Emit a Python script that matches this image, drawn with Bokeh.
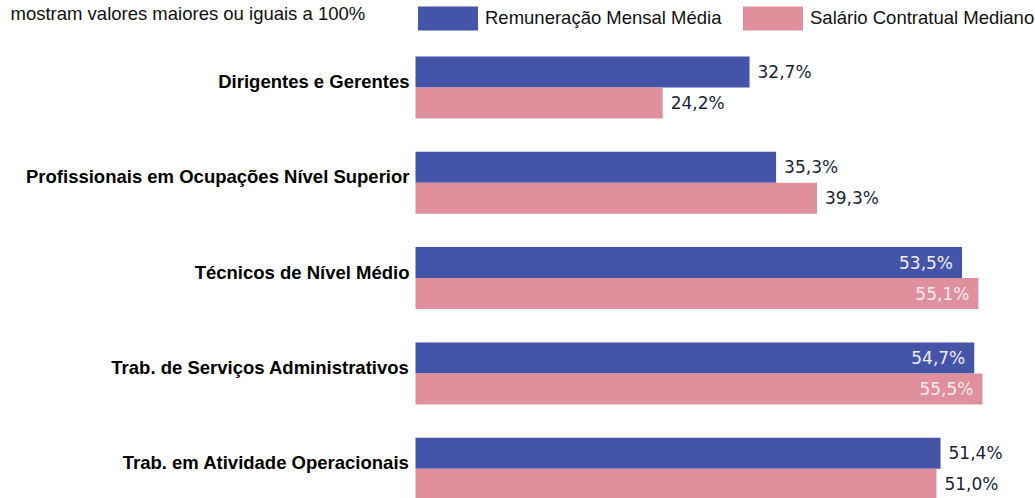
from bokeh.plotting import figure
from bokeh.models import Range1d, ColumnDataSource, Legend, LegendItem
from bokeh.transform import dodge
from bokeh.core.properties import value
from bokeh.embed import file_html
from bokeh.resources import INLINE

# ---- data ----
categories = [
    "Dirigentes e Gerentes",
    "Profissionais em Ocupações Nível Superior",
    "Técnicos de Nível Médio",
    "Trab. de Serviços Administrativos",
    "Trab. em Atividade Operacionais",
]
remuneracao_media = [32.7, 35.3, 53.5, 54.7, 51.4]
salario_mediano = [24.2, 39.3, 55.1, 55.5, 51.0]
series_names = ["Remuneração Mensal Média", "Salário Contratual Mediano"]
note_text = "mostram valores maiores ou iguais a 100%"

# ---- styles / layout ----
BLUE = "#4454A8"
PINK = "#E08F9C"
FONT = "Liberation Sans"
W, H = 1035, 498
X0_PX = 415          # where value 0 sits
PX_PER_UNIT = 10.215
ROW_PX = 95.3
ROW0_PX = 87         # centre of first category

x_start = -X0_PX / PX_PER_UNIT
x_end = (W - X0_PX) / PX_PER_UNIT
y_top = -ROW0_PX / ROW_PX
y_bottom = y_top + H / ROW_PX

idx = list(range(len(categories)))

def fmt(v):
    return f"{v:.1f}".replace(".", ",") + "%"

src = ColumnDataSource(dict(idx=idx, rem=remuneracao_media, sal=salario_mediano))

p = figure(
    width=W, height=H,
    x_range=Range1d(x_start, x_end),
    y_range=Range1d(start=y_bottom, end=y_top),
    x_axis_location=None, y_axis_location=None,
    output_backend="svg", toolbar_location=None,
    min_border=0,
)
p.outline_line_color = None
p.xgrid.visible = False
p.ygrid.visible = False
p.background_fill_color = "white"
p.border_fill_color = "white"

off = 15.5 / ROW_PX
hb = 31 / ROW_PX
r1 = p.hbar(y=dodge("idx", -off, range=p.y_range), right="rem", left=0, height=hb,
            source=src, fill_color=BLUE, line_color=None)
r2 = p.hbar(y=dodge("idx", off, range=p.y_range), right="sal", left=0, height=hb,
            source=src, fill_color=PINK, line_color=None)

# data labels
lx, ly, lt, la, lo, lc = [], [], [], [], [], []
for i in idx:
    for vals, d in ((remuneracao_media, -off), (salario_mediano, off)):
        v = vals[i]
        inside = v > 52
        lx.append(v)
        ly.append(i + d)
        lt.append(fmt(v))
        la.append("right" if inside else "left")
        lo.append(-9 if inside else 8)
        lc.append("#F2ECF2" if inside else "#1A1F38")
lsrc = ColumnDataSource(dict(x=lx, y=ly, t=lt, a=la, o=lo, c=lc))
p.text(x="x", y="y", text="t", source=lsrc, text_align="a", x_offset="o",
       text_color="c", text_baseline="middle", text_font=value("DejaVu Sans"),
       text_font_size="17px")

# category labels
csrc = ColumnDataSource(dict(x=[0] * len(idx), y=[i - 6 / ROW_PX for i in idx], t=categories))
p.text(x="x", y="y", text="t", source=csrc, text_align="right", x_offset=-6,
       text_baseline="middle", text_font=value(FONT), text_font_style="bold",
       text_font_size="18.5px", text_color="black")

# top note (cut at the top in the original)
nsrc = ColumnDataSource(dict(x=[x_start + 10 / PX_PER_UNIT], y=[y_top + 13 / ROW_PX], t=[note_text]))
p.text(x="x", y="y", text="t", source=nsrc, text_align="left",
       text_baseline="alphabetic", text_font=value(FONT),
       text_font_size="18.5px", text_color="#111111")

# legends (one per series so each can be placed; area glyphs drawn at 80% of box)
def make_legend(label, renderer, x):
    lg = Legend(items=[LegendItem(label=label, renderers=[renderer])],
                location=(x, H - 3 - 30))
    lg.orientation = "horizontal"
    lg.margin = 0
    lg.padding = 0
    lg.border_line_color = None
    lg.background_fill_alpha = 0
    lg.glyph_width = 75
    lg.glyph_height = 30
    lg.label_height = 30
    lg.label_standoff = -2
    lg.label_text_font = FONT
    lg.label_text_font_size = "18.5px"
    lg.label_text_color = "#111111"
    p.add_layout(lg, "center")

make_legend(series_names[0], r1, 410)
make_legend(series_names[1], r2, 735)

open("out.html", "w").write(file_html(p, INLINE))
